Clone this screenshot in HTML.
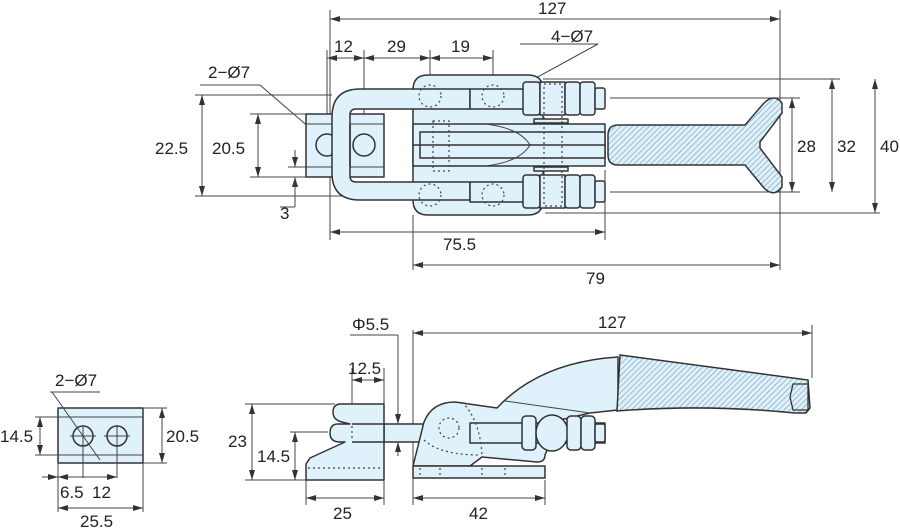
<!DOCTYPE html>
<html><head><meta charset="utf-8"><style>
html,body{margin:0;padding:0;background:#fff;}
svg{display:block;font-family:"Liberation Sans","DejaVu Sans",sans-serif;}
text{font-size:17px;fill:#222;}
.o{fill:#dff1fb;stroke:#333;stroke-width:1.5;stroke-linejoin:round;}
.l{stroke:#444;stroke-width:1;fill:none;}
.d{stroke:#444;stroke-width:1.2;fill:none;stroke-dasharray:2 3;}
.h{fill:url(#hat);stroke:#333;stroke-width:1.5;}
</style></head><body>
<svg width="900" height="529" viewBox="0 0 900 529" xmlns="http://www.w3.org/2000/svg">
<defs>
<pattern id="hat" width="4" height="4" patternUnits="userSpaceOnUse" patternTransform="rotate(45)">
<rect width="4" height="4" fill="#dff1fb"/><line x1="0" y1="0" x2="0" y2="4" stroke="#7aa0b8" stroke-width="1.3"/></pattern>
<marker id="a" markerWidth="10" markerHeight="6" refX="10" refY="3" orient="auto-start-reverse" markerUnits="userSpaceOnUse"><path d="M0,0 L10,3 L0,6z" fill="#333"/></marker>
</defs>

<!-- ===== TOP VIEW ===== -->
<g class="l">
<line x1="330" y1="10" x2="330" y2="240"/><line x1="327" y1="50" x2="327" y2="120"/>
<line x1="364" y1="50" x2="364" y2="135"/><line x1="430" y1="50" x2="430" y2="90"/>
<line x1="493" y1="50" x2="493" y2="90"/><line x1="780" y1="10" x2="780" y2="270"/>
<line x1="413" y1="215" x2="413" y2="270"/><line x1="605" y1="170" x2="605" y2="240"/>
<line x1="195" y1="95" x2="332" y2="95"/><line x1="195" y1="196" x2="360" y2="196"/>
<line x1="250" y1="114" x2="306" y2="114"/><line x1="250" y1="177" x2="306" y2="177"/>
<line x1="288" y1="167" x2="306" y2="167"/>
<line x1="610" y1="98" x2="800" y2="98"/><line x1="610" y1="192" x2="800" y2="192"/>
<line x1="543" y1="79" x2="840" y2="79"/><line x1="545" y1="213" x2="880" y2="213"/>
<line x1="200" y1="85" x2="260" y2="85"/><line x1="520" y1="44" x2="598" y2="44"/>
</g>
<g class="l">
<line x1="330" y1="19" x2="780" y2="19" marker-start="url(#a)" marker-end="url(#a)"/>
<line x1="327" y1="58" x2="364" y2="58" marker-start="url(#a)" marker-end="url(#a)"/>
<line x1="364" y1="58" x2="430" y2="58" marker-start="url(#a)" marker-end="url(#a)"/>
<line x1="430" y1="58" x2="493" y2="58" marker-start="url(#a)" marker-end="url(#a)"/>
<line x1="202" y1="95" x2="202" y2="196" marker-start="url(#a)" marker-end="url(#a)"/>
<line x1="258" y1="114" x2="258" y2="177" marker-start="url(#a)" marker-end="url(#a)"/>
<line x1="295" y1="150" x2="295" y2="167" marker-end="url(#a)"/>
<line x1="295" y1="195" x2="295" y2="177" marker-end="url(#a)"/>
<line x1="280" y1="207" x2="295" y2="207"/><line x1="295" y1="177" x2="295" y2="207"/>
<line x1="792" y1="98" x2="792" y2="192" marker-start="url(#a)" marker-end="url(#a)"/>
<line x1="832" y1="79" x2="832" y2="192" marker-start="url(#a)" marker-end="url(#a)"/>
<line x1="875" y1="79" x2="875" y2="213" marker-start="url(#a)" marker-end="url(#a)"/>
<line x1="330" y1="232" x2="605" y2="232" marker-start="url(#a)" marker-end="url(#a)"/>
<line x1="413" y1="265" x2="780" y2="265" marker-start="url(#a)" marker-end="url(#a)"/>
<line x1="260" y1="85" x2="347" y2="160" marker-end="url(#a)"/>
<line x1="598" y1="44" x2="468" y2="115"/>
<line x1="520" y1="84" x2="508" y2="94" marker-start="url(#a)"/>
</g>

<path class="o" d="M428,75 L528,75 Q543,75 543,90 L543,200 Q543,215 528,215 L428,215 Q413,215 413,200 L413,90 Q413,75 428,75z"/>
<rect class="o" x="306" y="114" width="78" height="63"/>
<line class="l" x1="306" y1="124" x2="384" y2="124" stroke="#333"/>
<line class="l" x1="306" y1="167" x2="384" y2="167" stroke="#333"/>
<circle class="o" cx="327" cy="145" r="11"/><circle class="o" cx="364" cy="145" r="11"/>
<path class="o" d="M470,89 L360,89 Q332,89 332,117 L332,173 Q332,200 360,200 L470,200 L470,182 L356,182 Q350,182 350,176 L350,115 Q350,109 356,109 L470,109z"/>
<line x1="350" y1="124" x2="350" y2="167" stroke="#333" stroke-width="1.5"/>
<rect class="o" x="470" y="89" width="55" height="20"/>
<rect class="o" x="470" y="182" width="55" height="20"/>
<circle class="d" cx="430" cy="96" r="11"/><circle class="d" cx="493" cy="96" r="11"/>
<circle class="d" cx="430" cy="195" r="11"/><circle class="d" cx="493" cy="195" r="11"/>
<rect class="o" x="413" y="124" width="192" height="42"/>
<rect class="o" x="420" y="132" width="185" height="26"/>
<path class="l" d="M485,124 Q520,128 530,145 Q520,162 485,166" stroke="#333"/>
<line x1="413" y1="145" x2="605" y2="145" stroke="#333" stroke-width="1.5"/>
<rect class="d" x="433" y="121" width="16" height="50"/>
<rect class="o" x="534" y="119" width="34" height="4"/><rect class="o" x="534" y="167" width="34" height="4"/>
<g class="o">
<rect x="523" y="82" width="17" height="33" rx="3"/><rect x="540" y="82" width="25" height="33"/>
<rect x="565" y="82" width="15" height="33" rx="3"/><rect x="580" y="82" width="15" height="33" rx="3"/>
<rect x="595" y="88" width="10" height="21" rx="2"/>
<rect x="523" y="175" width="17" height="33" rx="3"/><rect x="540" y="175" width="25" height="33"/>
<rect x="565" y="175" width="15" height="33" rx="3"/><rect x="580" y="175" width="15" height="33" rx="3"/>
<rect x="595" y="181" width="10" height="21" rx="2"/>
</g>
<rect class="d" x="544" y="84" width="18" height="122"/>
<path class="h" d="M618,125 L745,125 L764,103 Q774,93 782,103 L782,113 L760,142 L760,148 L782,177 L782,187 Q774,198 764,188 L745,165 L618,165 Q608,165 608,155 L608,135 Q608,125 618,125z"/>

<text x="538" y="14">127</text>
<text x="334" y="52">12</text><text x="387" y="52">29</text><text x="451" y="52">19</text>
<text x="551" y="42">4−Ø7</text><text x="208" y="78">2−Ø7</text>
<text x="155" y="154">22.5</text><text x="212" y="154">20.5</text><text x="280" y="219">3</text>
<text x="797" y="152">28</text><text x="837" y="152">32</text><text x="880" y="152">40</text>
<text x="443" y="250">75.5</text><text x="586" y="284">79</text>

<!-- ===== SIDE VIEW ===== -->
<g class="l">
<line x1="413" y1="330" x2="413" y2="505"/><line x1="812" y1="325" x2="812" y2="378"/>
<line x1="352" y1="368" x2="352" y2="440"/><line x1="384" y1="368" x2="384" y2="505"/>
<line x1="306" y1="480" x2="306" y2="505"/><line x1="545" y1="480" x2="545" y2="505"/>
<line x1="245" y1="404" x2="335" y2="404"/><line x1="245" y1="480" x2="306" y2="480"/>
<line x1="290" y1="432" x2="328" y2="432"/>
<line x1="350" y1="335" x2="398" y2="335"/><line x1="398" y1="335" x2="398" y2="455"/>
<line x1="413" y1="333" x2="812" y2="333" marker-start="url(#a)" marker-end="url(#a)"/>
<line x1="352" y1="380" x2="384" y2="380" marker-start="url(#a)" marker-end="url(#a)"/>
<line x1="252" y1="404" x2="252" y2="480" marker-start="url(#a)" marker-end="url(#a)"/>
<line x1="295" y1="432" x2="295" y2="480" marker-start="url(#a)" marker-end="url(#a)"/>
<line x1="398" y1="408" x2="398" y2="424" marker-end="url(#a)"/>
<line x1="398" y1="456" x2="398" y2="442" marker-end="url(#a)"/>
<line x1="306" y1="498" x2="384" y2="498" marker-start="url(#a)" marker-end="url(#a)"/>
<line x1="413" y1="498" x2="545" y2="498" marker-start="url(#a)" marker-end="url(#a)"/>
</g>
<!-- rod (behind) -->
<rect class="o" x="345" y="424" width="130" height="18"/>
<!-- left block side -->
<path class="o" d="M384,404 L341,404 Q333,404 333,412 Q333,420 342,422 L350,424 L338,424 Q330,424 330,433 Q330,442 340,442 L345,442 L310,458 L306,464 L306,480 L384,480z"/>
<path class="o" d="M352,424 L384,424 L384,442 L352,442" style="fill:#dff1fb"/>
<line class="d" x1="308" y1="468" x2="382" y2="468"/>
<line class="d" x1="352" y1="426" x2="352" y2="440"/>
<!-- lever body -->
<path class="o" d="M413,466 L424,422 Q432,402 455,402 L497,408 Q540,362 618,357 L618,410 L590,413 L560,420 L545,455 Q545,462 537,462 L482,457 L470,466 Z"/>
<line class="l" x1="505" y1="401" x2="590" y2="413" stroke="#333" stroke-width="1.3"/>
<rect class="o" x="470" y="423" width="135" height="20"/>
<rect class="o" x="413" y="466" width="132" height="12"/>
<circle class="d" cx="449" cy="428" r="10"/>
<path class="d" d="M462,402 Q480,420 482,455"/>
<path class="d" d="M424,440 Q440,455 480,455"/>
<g class="d"><line x1="420" y1="468" x2="420" y2="478"/><line x1="440" y1="468" x2="440" y2="478"/><line x1="482" y1="468" x2="482" y2="478"/><line x1="505" y1="468" x2="505" y2="478"/></g>
<g class="o">
<rect x="522" y="416" width="14" height="34" rx="4"/>
<ellipse cx="552" cy="433" rx="16" ry="18"/>
<rect x="567" y="416" width="14" height="34" rx="4"/><rect x="581" y="416" width="14" height="34" rx="4"/>
<rect x="595" y="424" width="10" height="18" rx="2"/>
</g>
<path class="h" d="M620,355 L808,380 L810,408 L806,413 L795,413 Q705,404 617,411 L620,355z"/>
<path d="M793,384 L808,384 L808,410 L793,410 L790,397z" fill="none" stroke="#333" stroke-width="1.3"/>

<text x="352" y="330">Φ5.5</text><text x="598" y="328">127</text>
<text x="348" y="374">12.5</text><text x="228" y="447">23</text><text x="257" y="462">14.5</text>
<text x="333" y="519">25</text><text x="469" y="519">42</text>

<!-- ===== SMALL BLOCK ===== -->
<rect class="o" x="58" y="408" width="85" height="55"/>
<line class="l" x1="58" y1="417" x2="143" y2="417" stroke="#333"/>
<line class="l" x1="58" y1="455" x2="143" y2="455" stroke="#333"/>
<circle class="o" cx="83" cy="436" r="10"/><circle class="o" cx="117" cy="436" r="10"/>
<g class="l">
<line x1="70" y1="436" x2="96" y2="436"/><line x1="104" y1="436" x2="130" y2="436"/>
<line x1="83" y1="425" x2="83" y2="478"/><line x1="117" y1="425" x2="117" y2="478"/>
<line x1="50" y1="392" x2="100" y2="392"/><line x1="52" y1="392" x2="100" y2="460"/>
<line x1="35" y1="417" x2="58" y2="417"/><line x1="35" y1="455" x2="58" y2="455"/>
<line x1="143" y1="408" x2="167" y2="408"/><line x1="143" y1="463" x2="167" y2="463"/>
<line x1="40" y1="417" x2="40" y2="455" marker-start="url(#a)" marker-end="url(#a)"/>
<line x1="162" y1="408" x2="162" y2="463" marker-start="url(#a)" marker-end="url(#a)"/>
<line x1="58" y1="463" x2="58" y2="512"/><line x1="143" y1="463" x2="143" y2="512"/>
<line x1="42" y1="477" x2="58" y2="477" marker-end="url(#a)"/>
<line x1="58" y1="477" x2="83" y2="477" marker-start="url(#a)"/>
<line x1="83" y1="477" x2="117" y2="477" marker-end="url(#a)"/>
<line x1="58" y1="508" x2="143" y2="508" marker-start="url(#a)" marker-end="url(#a)"/>
</g>
<text x="55" y="386">2−Ø7</text>
<text x="0" y="442">14.5</text><text x="166" y="442">20.5</text>
<text x="60" y="498">6.5</text><text x="92" y="498">12</text><text x="80" y="527">25.5</text>
</svg>
</body></html>
